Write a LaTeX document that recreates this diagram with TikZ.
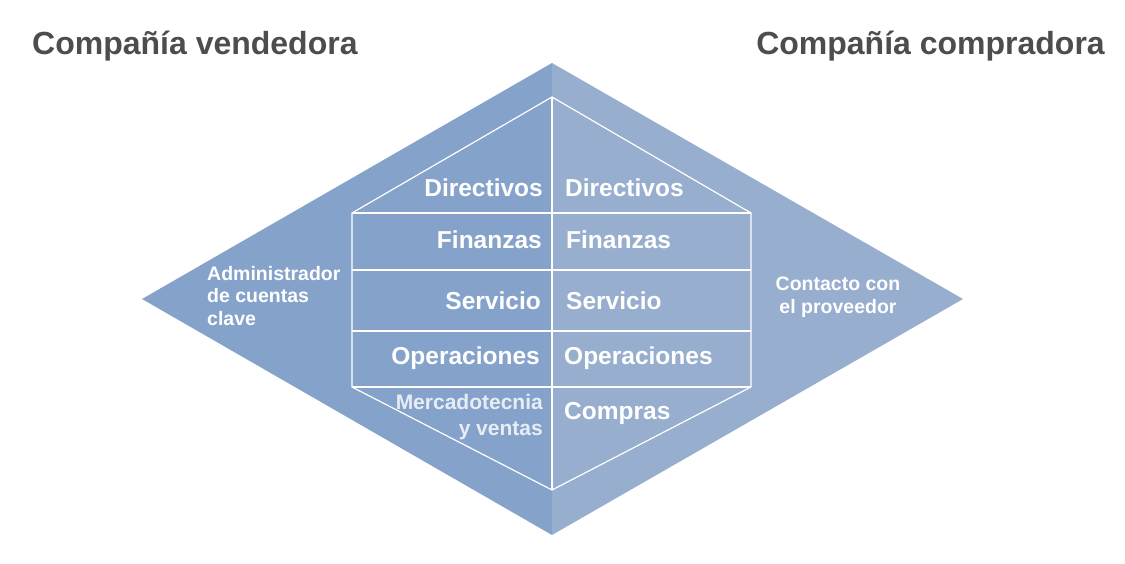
\documentclass[tikz,border=0pt]{standalone}
\usepackage{fontspec}
\setmainfont{Liberation Sans}
\definecolor{leftblue}{HTML}{85A3CA}
\definecolor{rightblue}{HTML}{97AECF}
\definecolor{titlegray}{HTML}{4D4D4D}
\definecolor{softwhite}{HTML}{E8EDF5}
\tikzset{
  title/.style={font=\fontsize{32}{36}\selectfont\bfseries, text=titlegray, inner sep=0pt},
  lbl/.style={font=\fontsize{24.5}{26}\selectfont\bfseries, text=white, inner sep=0pt},
  side/.style={font=\fontsize{19.5}{22.5}\selectfont\bfseries, text=white, inner sep=0pt},
  wline/.style={draw=white, line width=1.2pt},
}
\begin{document}
\begin{tikzpicture}[x=1pt,y=-1pt]
\useasboundingbox (0,0) rectangle (1125,564);
% diamond halves
\coordinate (T) at (552,63);
\coordinate (B) at (552,535);
\coordinate (L) at (142,299);
\coordinate (R) at (963,299);
\fill[leftblue] (T) -- (L) -- (B) -- cycle;
\fill[rightblue] (T) -- (R) -- (B) -- cycle;
% inner hexagon
\coordinate (iT) at (552,97);
\coordinate (iLT) at (352,213);
\coordinate (iRT) at (751,213);
\coordinate (iLB) at (352,387);
\coordinate (iRB) at (751,387);
\coordinate (iB) at (552,490);
\draw[wline] (iT) -- (iLT) -- (iLB) -- (iB) -- (iRB) -- (iRT) -- cycle;
\draw[wline] (iT) -- (iB);
\draw[wline] (iLT) -- (iRT);
\coordinate (r1l) at (352,270); \coordinate (r1r) at (751,270);
\coordinate (r2l) at (352,331); \coordinate (r2r) at (751,331);
\draw[wline] (r1l) -- (r1r);
\draw[wline] (r2l) -- (r2r);
\draw[wline] (iLB) -- (iRB);
% titles
\node[title, anchor=base west] (tl) at (32,55) {Compañía vendedora};
\node[title, anchor=base east] (tr) at (1105,55) {Compañía compradora};
% inner labels
\node[lbl, anchor=base east] (ld) at (543,197) {Directivos};
\node[lbl, anchor=base west] (rd) at (565,197) {Directivos};
\node[lbl, anchor=base east] (lf) at (542,249) {Finanzas};
\node[lbl, anchor=base west] (rf) at (566,249) {Finanzas};
\node[lbl, anchor=base east] (ls) at (541,309) {Servicio};
\node[lbl, anchor=base west] (rs) at (566,309) {Servicio};
\node[lbl, anchor=base east] (lo) at (540,364) {Operaciones};
\node[lbl, anchor=base west] (ro) at (564,364) {Operaciones};
\node[lbl, anchor=base east, text=softwhite, font=\fontsize{21}{26}\selectfont\bfseries, align=right] (lm) at (543,435) {Mercadotecnia\\y ventas};
\node[lbl, anchor=base west] (rc) at (564,419) {Compras};
% side labels (base = last line)
\node[side, anchor=base west, align=left] (adm) at (207,325) {Administrador\\de cuentas\\clave};
\node[side, anchor=base, align=center] (con) at (838,313) {Contacto con\\el proveedor};
\end{tikzpicture}
\end{document}
